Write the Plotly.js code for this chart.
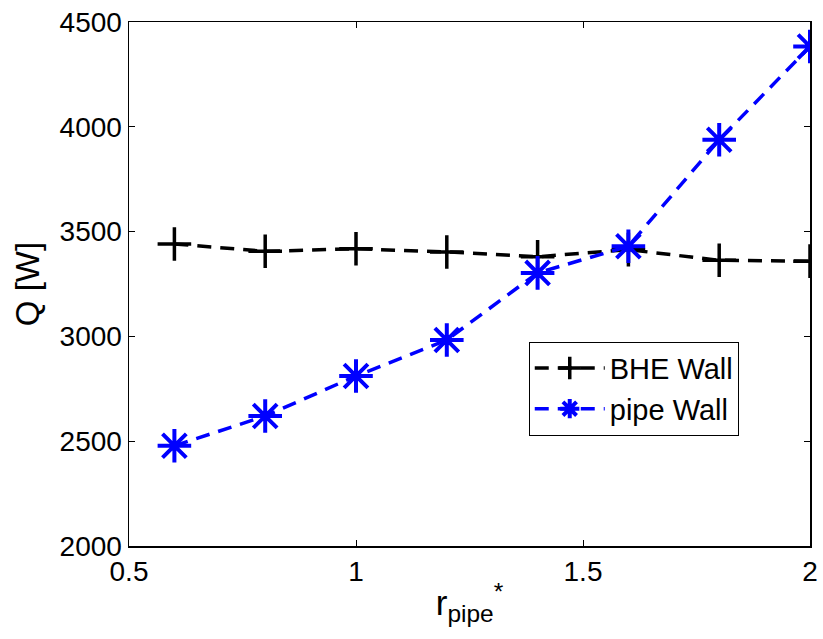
<!DOCTYPE html>
<html>
<head>
<meta charset="utf-8">
<script src="https://cdn.plot.ly/plotly-3.0.1.min.js"></script>
<style>
  html, body { margin: 0; padding: 0; background: #fff; }
  #chart { width: 823px; height: 639px; }
</style>
</head>
<body>
<div id="chart"></div>
<script>
// Dimensionless pipe radius
const rPipe = [0.6, 0.8, 1.0, 1.2, 1.4, 1.6, 1.8, 2.0];
// Heat flow Q [W] at each boundary
const qBheWall = [3441, 3406, 3418, 3403, 3380, 3414, 3363, 3359];
const qPipeWall = [2478, 2620, 2811, 2983, 3303, 3430, 3938, 4383];
const seriesNames = ['BHE Wall', 'pipe Wall'];

const font = { family: 'Liberation Sans, Arial, Helvetica, sans-serif', color: '#000' };

const traces = [
  {
    x: rPipe, y: qBheWall, name: seriesNames[0],
    type: 'scatter', mode: 'lines+markers',
    line: { color: '#000', width: 3.5, dash: '14px,9px' },
    marker: { symbol: 'cross-thin-open', size: 24, color: '#000', line: { color: '#000', width: 3.5 } }
  },
  {
    x: rPipe, y: qPipeWall, name: seriesNames[1],
    type: 'scatter', mode: 'lines+markers',
    line: { color: '#0000ff', width: 3.5, dash: '14px,9px' },
    marker: { symbol: 'asterisk-open', size: 28, color: '#0000ff', line: { color: '#0000ff', width: 4 } }
  }
];

const axisCommon = {
  showline: true, linecolor: '#000', linewidth: 1.5, mirror: 'ticks',
  ticks: 'inside', ticklen: 6, tickwidth: 1, tickcolor: '#000',
  showgrid: false, zeroline: false,
  tickfont: Object.assign({ size: 28 }, font)
};

const layout = {
  width: 823, height: 639,
  paper_bgcolor: '#fff', plot_bgcolor: '#fff',
  margin: { l: 129, r: 13, t: 22, b: 93 },
  showlegend: true,
  font: font,
  xaxis: Object.assign({}, axisCommon, {
    range: [0.5, 2], tickvals: [0.5, 1, 1.5, 2], ticktext: ['0.5', '1', '1.5', '2'],
    title: { text: 'r<sub>pipe</sub><sup>*</sup>', font: Object.assign({ size: 35 }, font), standoff: 4 }
  }),
  yaxis: Object.assign({}, axisCommon, {
    range: [2000, 4500], tickvals: [2000, 2500, 3000, 3500, 4000, 4500],
    title: { text: 'Q [W]', font: Object.assign({ size: 33 }, font), standoff: 10 }
  }),
  legend: {
    x: 0.587, y: 0.39, xanchor: 'left', yanchor: 'top',
    bgcolor: '#fff', bordercolor: '#000', borderwidth: 1,
    font: Object.assign({ size: 29 }, font),
    itemwidth: 70, tracegroupgap: 0
  }
};

Plotly.newPlot('chart', traces, layout, { staticPlot: true, displayModeBar: false });
</script>
</body>
</html>
